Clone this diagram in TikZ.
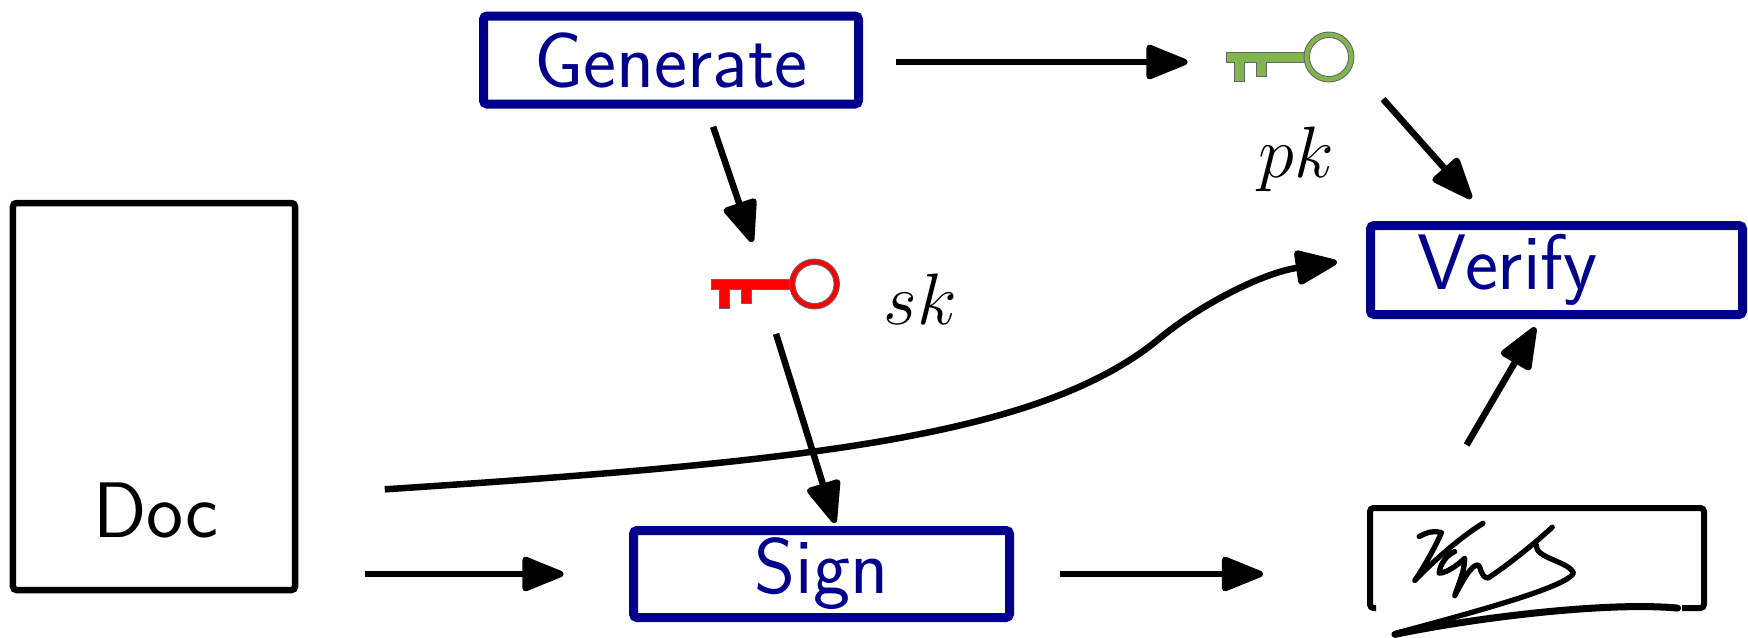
\documentclass[tikz,border=0pt]{standalone}
\usepackage{amsmath}
\usepackage{fontspec}
\usepackage{xcolor}
\definecolor{boxBlue}{RGB}{0, 0, 139}
\definecolor{keyGreen}{RGB}{130, 180, 80}
\usepackage{tikz}
\usetikzlibrary{positioning,arrows.meta,calc}

\tikzset{
  key/.pic={
    \filldraw[fill=#1, draw=black!60, line width=0.25pt]
      (-0.635,0.05) -- (0.2,0.05) -- (0.2,-0.05) -- (-0.235,-0.05) -- (-0.235,-0.19)
      -- (-0.335,-0.19) -- (-0.335,-0.05) -- (-0.455,-0.05) -- (-0.455,-0.24) -- (-0.555,-0.24)
      -- (-0.555,-0.05) -- (-0.635,-0.05) -- cycle;
    \filldraw[fill=#1, draw=black!60, line width=0.25pt] (0.395,0) circle (0.25);
    \filldraw[fill=white, draw=black!60, line width=0.25pt] (0.395,0) circle (0.195);
  }
}

\begin{document}
\begin{tikzpicture}[
  blk/.style={draw=boxBlue, rectangle, rounded corners=1pt, line width=0.09cm,
              outer sep=0pt, inner sep=0pt, text=boxBlue, font=\fontsize{22.4}{26}\selectfont\sffamily},
  page/.style={draw, rectangle, rounded corners=1pt, line width=0.065cm, outer sep=0pt},
  keybox/.style={rectangle, minimum width=1.26cm, minimum height=0.5cm, inner sep=0pt, outer sep=0pt},
  ann/.style={font=\fontsize{22}{26}\selectfont},
  conn/.style={-{Triangle[length=0.47cm,width=0.36cm,round]}, line width=0.065cm},
]
\useasboundingbox (0,0) rectangle (17.48,-6.37);

%% boxes
\node[blk, minimum width=3.75cm, minimum height=0.88cm] (gen) at (6.71,-0.60) {Generate};
\node[blk, minimum width=3.76cm, minimum height=0.87cm] (sgn) at (8.215,-5.74) {Sign};
\node[blk, minimum width=3.72cm, minimum height=0.89cm] (vrf) at (15.565,-2.70) {Verify\kern0.98cm};
\node[page, minimum width=2.82cm, minimum height=3.87cm] (doc) at (1.54,-3.965) {};
\node[font=\fontsize{22.4}{26}\selectfont\sffamily] (doclbl) at (1.56,-5.10) {Doc};

%% keys
\node[keybox] (pkkey) at (12.895,-0.57) {};
\pic at (pkkey) {key=keyGreen};
\node[ann] (pklbl) at (12.96,-1.59) {$pk$};
\node[keybox] (skkey) at (7.75,-2.84) {};
\pic at (skkey) {key=red};
\node[ann] (sklbl) at (9.20,-2.99) {$sk$};

%% signature
\node[rectangle, minimum width=3.34cm, minimum height=1.00cm, inner sep=0pt, outer sep=0pt] (sig) at (15.37,-5.58) {};
\draw[line width=0.06cm, rounded corners=1pt] ($(sig.south west)+(0.06,0)$) -- (sig.south west)
  -- (sig.north west) -- (sig.north east) -- (sig.south east) -- ++(-0.22,0);
\begin{scope}[shift={(13.40,-4.90)}, x=0.00333cm, y=-0.00333cm, line cap=round, line join=round]
  \draw[line width=1.5pt] (238,140) .. controls (265,125) and (285,122) .. (305,128)
    .. controls (285,175) and (250,235) .. (225,272)
    .. controls (270,225) and (350,150) .. (430,100);
  \draw[line width=1.5pt] (345,185) .. controls (320,195) and (300,225) .. (298,250)
    .. controls (320,250) and (355,225) .. (375,205)
    .. controls (375,245) and (355,285) .. (345,318)
    .. controls (370,270) and (395,225) .. (415,225)
    .. controls (425,230) and (420,260) .. (445,265)
    .. controls (490,235) and (570,175) .. (638,112);
  \draw[line width=1.5pt] (590,165) .. controls (585,205) and (690,215) .. (702,250)
    .. controls (680,290) and (450,355) .. (170,430);
  \draw[line width=2pt] (165,434) .. controls (400,385) and (800,335) .. (1015,355);
\end{scope}

%% connectors
\draw[conn, shorten <=0.37cm, shorten >=0.39cm] ($(gen.east)+(0,-0.02)$) -- ($(pkkey.west)+(0,-0.05)$);
\draw[conn, shorten <=0.24cm, shorten >=0.18cm] (gen.-52) -- (skkey.124.7);
\draw[conn, shorten <=0.26cm, shorten >=0.08cm] (skkey.-105.6) -- (sgn.70.2);
\draw[conn, shorten <=0.46cm, shorten >=0.36cm] (pkkey.-7.2) -- (vrf.144.9);
\draw[conn, shorten <=0.73cm, shorten >=0.15cm] (sig.155.1) -- (vrf.-107.1);
\draw[conn, shorten <=0.70cm, shorten >=0.70cm] (doc.east |- sgn.west) -- (sgn.west);
\draw[conn, shorten <=0.50cm, shorten >=1.07cm] (sgn.east) -- (sgn.east -| sig.west);
\draw[conn, shorten <=0.90cm, shorten >=0.34cm] (doc.-35.2)
  .. controls (8.00,-4.62) and (10.40,-4.38) .. (11.60,-3.38)
  .. controls (12.00,-3.05) and (12.62,-2.73) .. (vrf.176);
\end{tikzpicture}
\end{document}
